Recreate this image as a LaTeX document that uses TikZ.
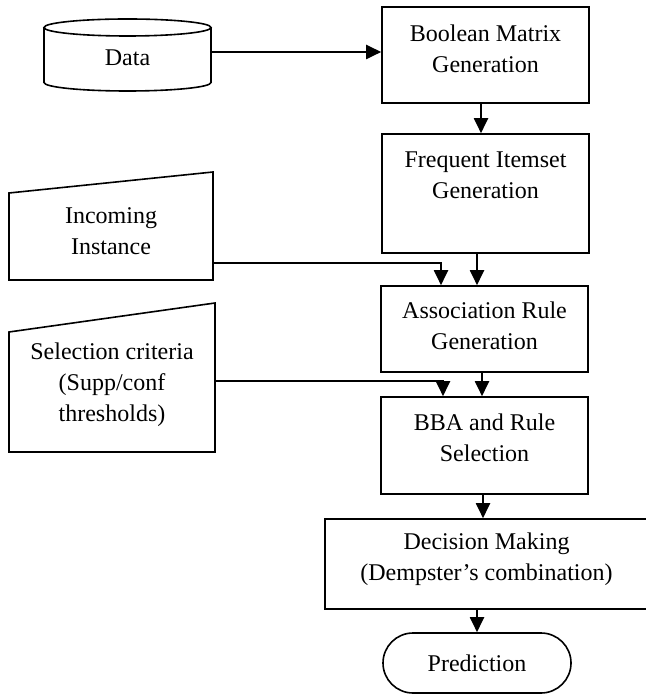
\documentclass[tikz,border=0pt]{standalone}
\usepackage{fontspec}
\setmainfont{Liberation Serif}
\usetikzlibrary{arrows.meta,shapes.misc}
\begin{document}
\begin{tikzpicture}[x=0.5pt,y=-0.5pt,
  shape line/.style={draw, line width=0.8pt},
  box/.style={shape line, rectangle, inner sep=0pt},
  txt/.style={align=center, font=\fontsize{12}{15.5}\selectfont, inner sep=0pt},
  arr/.style={-{Triangle[length=7.5pt,width=7pt]}, line width=1pt}]
\useasboundingbox (0,0) rectangle (645,694);

% Data cylinder
\draw[shape line] (44,27.5) -- (44,82.5)
  arc[start angle=180,end angle=360,x radius=41.75pt,y radius=4.25pt] -- (211,27.5);
\draw[shape line] (127.5,27.5) ellipse [x radius=41.75pt, y radius=4.25pt];
\node[txt] (data) at (127.5,58) {Data};
\coordinate (dataout) at (211,52);

% Process boxes
\node[box, minimum width=103.5pt, minimum height=48pt] (bool) at (485.5,55) {};
\node[txt] (boolT) at (485.5,48.5) {Boolean Matrix\\Generation};

\node[box, minimum width=103.5pt, minimum height=59.5pt] (freq) at (485.5,193.5) {};
\node[txt] (freqT) at (485.5,175.5) {Frequent Itemset\\Generation};

\node[box, minimum width=103.5pt, minimum height=43pt] (assoc) at (484.5,329) {};
\node[txt] (assocT) at (484.5,326) {Association Rule\\Generation};

\node[box, minimum width=103.5pt, minimum height=48.5pt] (bba) at (484.5,445.5) {};
\node[txt] (bbaT) at (484.5,437.5) {BBA and Rule\\Selection};

\node[box, minimum width=161.5pt, minimum height=45pt] (dec) at (486.5,564) {};
\node[txt] (decT) at (486.5,559.5) {Decision Making\\(Dempster’s combination)};

\node[shape line, rounded rectangle, minimum width=94pt, minimum height=30pt, inner sep=0pt, txt]
  (pred) at (477,663) {Prediction};

% Manual input shapes
\draw[shape line] (9,193) -- (213,172) -- (213,280) -- (9,280) -- cycle;
\node[txt] (inc) at (111,231) {Incoming\\Instance};
\coordinate (incout) at (213,263);

\draw[shape line] (9,332) -- (215,303) -- (215,452) -- (9,452) -- cycle;
\node[txt] (sel) at (112,385) {Selection criteria\\(Supp/conf\\thresholds)};
\coordinate (selout) at (215,381);

% connector columns
\coordinate (cbf) at (481,0);
\coordinate (cfa) at (477,0);
\coordinate (cab) at (482,0);
\coordinate (cbd) at (483,0);
\coordinate (cia) at (441,0);
\coordinate (csb) at (443,0);

% connectors
\draw[arr] (dataout) -- (bool.west |- dataout);
\draw[arr] (bool.south -| cbf) -- (freq.north -| cbf);
\draw[arr] (freq.south -| cfa) -- (assoc.north -| cfa);
\draw[arr] (incout) -| (assoc.north -| cia);
\draw[arr] (assoc.south -| cab) -- (bba.north -| cab);
\draw[arr] (selout) -| (bba.north -| csb);
\draw[arr] (bba.south -| cbd) -- (dec.north -| cbd);
\draw[arr] (dec.south -| pred.north) -- (pred.north);
\end{tikzpicture}
\end{document}
